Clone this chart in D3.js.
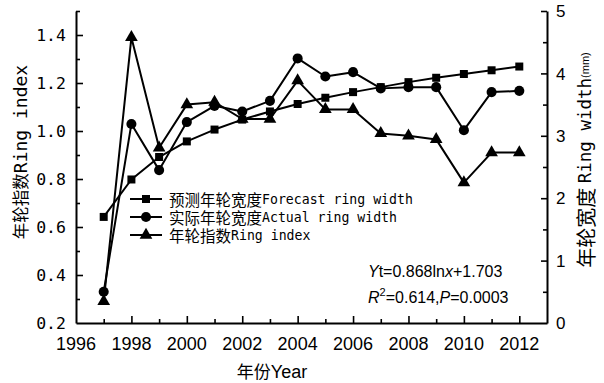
<!DOCTYPE html>
<html>
<head>
<meta charset="utf-8">
<script src="https://cdn.jsdelivr.net/npm/d3@7/dist/d3.min.js"></script>
<style>
  html, body { margin: 0; padding: 0; background: #fff; }
  svg { display: block; }
  .cjk { font-family: "Noto Sans CJK SC", sans-serif; }
  .mono { font-family: "DejaVu Sans Mono", monospace; }
  .sans { font-family: "Liberation Sans", Arial, sans-serif; }
</style>
</head>
<body>
<svg id="chart" width="604" height="383"></svg>
<script>
// Years of the tree-ring record
const years = [1997, 1998, 1999, 2000, 2001, 2002, 2003, 2004, 2005, 2006, 2007, 2008, 2009, 2010, 2011, 2012];
// Forecast ring width (mm), right axis
const forecastWidth = [1.70, 2.30, 2.66, 2.91, 3.10, 3.26, 3.39, 3.51, 3.61, 3.70, 3.78, 3.86, 3.93, 3.99, 4.05, 4.11];
// Measured ring width (mm), right axis
const actualWidth = [0.50, 3.19, 2.45, 3.22, 3.48, 3.39, 3.56, 4.24, 3.95, 4.02, 3.76, 3.78, 3.78, 3.09, 3.70, 3.72];
// Ring index, left axis
const ringIndex = [0.29, 1.39, 0.93, 1.11, 1.12, 1.05, 1.05, 1.21, 1.09, 1.09, 0.99, 0.98, 0.965, 0.785, 0.91, 0.91];

// Tick labels
const xTickYears = [1996, 1998, 2000, 2002, 2004, 2006, 2008, 2010, 2012];
const leftTicks = [0.2, 0.4, 0.6, 0.8, 1.0, 1.2, 1.4];
const rightTicks = [0, 1, 2, 3, 4, 5];

const svg = d3.select("#chart");

const x = d3.scaleLinear().domain([1996, 2013]).range([76, 547]);
const yL = d3.scaleLinear().domain([0.2, 1.5]).range([323, 11]);
const yR = d3.scaleLinear().domain([0, 5]).range([323, 11]);

const axisColor = "#000";

// ---- Axes ----
// bottom axis: ticks pointing inward (upward)
const xAxis = d3.axisBottom(x)
  .tickValues(d3.range(1996, 2013, 1))
  .tickSizeInner(0).tickSizeOuter(0).tickFormat("");
const gx = svg.append("g").attr("transform", "translate(0,323)").call(xAxis);
gx.select(".domain").attr("stroke", axisColor).attr("stroke-width", 2);
gx.selectAll(".tick line")
  .attr("y2", d => (d % 2 === 0 ? -7 : -4))
  .attr("stroke", axisColor).attr("stroke-width", 1.6);
gx.selectAll(".tick").filter(d => d === 1996).select("line").remove();
svg.append("g").selectAll("text").data(xTickYears).join("text")
  .attr("class", "sans")
  .attr("x", d => x(d)).attr("y", 350)
  .attr("text-anchor", "middle")
  .attr("font-size", 18)
  .text(d => d);

// left axis
const leftMinor = d3.range(0.2, 1.501, 0.1).map(v => +v.toFixed(1));
const gyl = svg.append("g").attr("transform", "translate(76,0)")
  .call(d3.axisLeft(yL).tickValues(leftMinor).tickSizeInner(0).tickSizeOuter(0).tickFormat(""));
gyl.select(".domain").attr("stroke", axisColor).attr("stroke-width", 2);
gyl.selectAll(".tick line")
  .attr("x2", d => (Math.round(d * 10) % 2 === 0 ? 7 : 4))
  .attr("stroke", axisColor).attr("stroke-width", 1.6);
gyl.selectAll(".tick").filter(d => d === 0.2).select("line").remove();
svg.append("g").selectAll("text").data(leftTicks).join("text")
  .attr("class", "mono")
  .attr("x", 66).attr("y", d => yL(d))
  .attr("dy", "0.36em")
  .attr("text-anchor", "end")
  .attr("font-size", 16.5)
  .text(d => d.toFixed(1));

// right axis
const rightMinor = d3.range(0, 5.01, 0.5);
const gyr = svg.append("g").attr("transform", "translate(547,0)")
  .call(d3.axisRight(yR).tickValues(rightMinor).tickSizeInner(0).tickSizeOuter(0).tickFormat(""));
gyr.select(".domain").attr("stroke", axisColor).attr("stroke-width", 2);
gyr.selectAll(".tick line")
  .attr("x2", d => (Number.isInteger(d) ? -6 : -4))
  .attr("stroke", axisColor).attr("stroke-width", 1.6);
gyr.selectAll(".tick").filter(d => d === 0).select("line").remove();
svg.append("g").selectAll("text").data(rightTicks).join("text")
  .attr("class", "sans")
  .attr("x", 556).attr("y", d => yR(d))
  .attr("dy", "0.36em")
  .attr("text-anchor", "start")
  .attr("font-size", 17)
  .text(d => d);

// ---- Axis titles ----
const bt = svg.append("text").attr("x", 272).attr("y", 378).attr("text-anchor", "middle");
bt.append("tspan").attr("class", "cjk").attr("font-size", 17).text("年份");
bt.append("tspan").attr("class", "sans").attr("font-size", 18).text("Year");

const lt = svg.append("text")
  .attr("transform", "translate(20,152) rotate(-90)")
  .attr("text-anchor", "middle").attr("dominant-baseline", "central");
lt.append("tspan").attr("class", "cjk").attr("font-size", 16.5).text("年轮指数");
lt.append("tspan").attr("class", "mono").attr("font-size", 18).text("Ring index");

const rt = svg.append("text")
  .attr("transform", "translate(585,160) rotate(-90)")
  .attr("text-anchor", "middle").attr("dominant-baseline", "central");
rt.append("tspan").attr("class", "cjk").attr("font-size", 20).text("年轮宽度 ");
rt.append("tspan").attr("class", "mono").attr("font-size", 17.5).text("Ring width");
rt.append("tspan").attr("class", "sans").attr("font-size", 11).text("(mm)");

// ---- Series ----
const series = [
  { name: "forecast", values: forecastWidth, y: yR, symbol: d3.symbolSquare, size: 64 },
  { name: "actual", values: actualWidth, y: yR, symbol: d3.symbolCircle, size: 80 },
  { name: "index", values: ringIndex, y: yL, symbol: d3.symbolTriangle, size: 70 }
];

series.forEach(s => {
  const pts = years.map((yr, i) => [x(yr), s.y(s.values[i])]);
  svg.append("path")
    .attr("d", d3.line()(pts))
    .attr("fill", "none").attr("stroke", "#000").attr("stroke-width", 2)
    .attr("stroke-linejoin", "round");
  svg.append("g").selectAll("path").data(pts).join("path")
    .attr("transform", d => `translate(${d[0]},${d[1]})`)
    .attr("d", d3.symbol(s.symbol, s.size)())
    .attr("fill", "#000");
});

// ---- Legend ----
const legendItems = [
  { cn: "预测年轮宽度", en: "Forecast ring width", symbol: d3.symbolSquare, size: 64 },
  { cn: "实际年轮宽度", en: "Actual ring width", symbol: d3.symbolCircle, size: 80 },
  { cn: "年轮指数", en: "Ring index", symbol: d3.symbolTriangle, size: 70 }
];
const lg = svg.append("g");
legendItems.forEach((it, i) => {
  const cy = 199 + i * 18;
  lg.append("line").attr("x1", 130).attr("x2", 162).attr("y1", cy).attr("y2", cy)
    .attr("stroke", "#000").attr("stroke-width", 2);
  lg.append("path").attr("transform", `translate(146,${cy})`)
    .attr("d", d3.symbol(it.symbol, it.size)()).attr("fill", "#000");
  const t = lg.append("text").attr("x", 169).attr("y", cy).attr("dominant-baseline", "central");
  t.append("tspan").attr("class", "cjk").attr("font-size", 15.5).text(it.cn);
  t.append("tspan").attr("class", "mono").attr("font-size", 13.2).text(it.en);
});

// ---- Regression annotation ----
const e1 = svg.append("text").attr("class", "sans").attr("x", 368).attr("y", 277).attr("font-size", 16);
e1.append("tspan").attr("font-style", "italic").text("Y");
e1.append("tspan").text("t=0.868ln");
e1.append("tspan").attr("font-style", "italic").text("x");
e1.append("tspan").text("+1.703");

const e2 = svg.append("text").attr("class", "sans").attr("x", 368).attr("y", 303).attr("font-size", 16);
e2.append("tspan").attr("font-style", "italic").text("R");
e2.append("tspan").attr("font-size", 11).attr("dy", -7).text("2");
e2.append("tspan").attr("dy", 7).text("=0.614,");
e2.append("tspan").attr("font-style", "italic").text("P");
e2.append("tspan").text("=0.0003");
</script>
</body>
</html>
